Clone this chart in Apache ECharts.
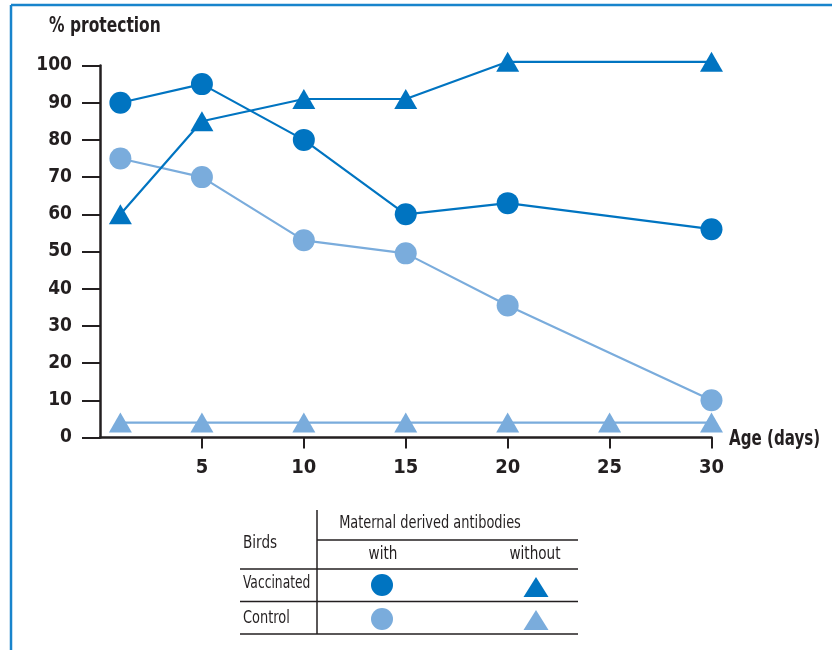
<!DOCTYPE html>
<html>
<head>
<meta charset="utf-8">
<script src="https://cdn.jsdelivr.net/npm/echarts@6/dist/echarts.min.js"></script>
<style>
html,body{margin:0;padding:0;background:#fff;}
#chart{width:832px;height:650px;}
</style>
</head>
<body>
<div id="chart"></div>
<script>
// ---- data ----
var daysVaccWith = [1, 5, 10, 15, 20, 30];
var vaccWith = [90, 95, 80, 60, 63, 56];
var daysVaccWithout = [1, 5, 10, 15, 20, 30];
var vaccWithout = [60, 85, 91, 91, 101, 101];
var daysCtrlWith = [1, 5, 10, 15, 20, 30];
var ctrlWith = [75, 70, 53, 49.5, 35.5, 10];
var daysCtrlWithout = [1, 5, 10, 15, 20, 25, 30];
var ctrlWithout = [4, 4, 4, 4, 4, 4, 4];
var xTicks = [5, 10, 15, 20, 25, 30];
var yTicks = [0, 10, 20, 30, 40, 50, 60, 70, 80, 90, 100];

var DARK = '#0074c1';
var LIGHT = '#7aacdc';
var FRAME = '#1884cc';
var INK = '#231f20';
var FONT = "'DejaVu Sans Condensed', 'Liberation Sans Narrow', sans-serif";

function pairs(xs, ys) { return xs.map(function (x, i) { return [x, ys[i]]; }); }

var chart = echarts.init(document.getElementById('chart'), null, {renderer: 'canvas'});

function tri(cx, cy, w, h, color) {
  return {
    type: 'polygon',
    shape: {points: [[cx, cy - h / 2], [cx + w / 2, cy + h / 2], [cx - w / 2, cy + h / 2]]},
    style: {fill: color}
  };
}
function hline(x1, x2, y) {
  return {type: 'line', shape: {x1: x1, y1: y, x2: x2, y2: y}, style: {stroke: INK, lineWidth: 1.5}};
}
function txt(x, y, s, align, sx) {
  return {type: 'text', x: x, y: y, scaleX: sx || 0.84,
    style: {text: s, fill: INK, font: '18px ' + FONT, textAlign: align || 'left', textVerticalAlign: 'middle'}};
}

var option = {
  animation: false,
  backgroundColor: '#fff',
  grid: {left: 100, top: 65.5, right: 120.5, bottom: 212.5, containLabel: false},
  xAxis: {
    type: 'value', min: 0, max: 30, interval: 5,
    axisLine: {show: true, lineStyle: {color: INK, width: 2.5}},
    axisTick: {show: true, length: 11, lineStyle: {color: INK, width: 2}, customValues: xTicks},
    axisLabel: {color: INK, fontSize: 20, fontWeight: 'bold', fontFamily: FONT, margin: 20, customValues: xTicks},
    splitLine: {show: false}
  },
  yAxis: {
    type: 'value', min: 0, max: 100, interval: 10,
    axisLine: {show: true, lineStyle: {color: INK, width: 2.5}},
    axisTick: {show: true, length: 18, lineStyle: {color: INK, width: 2}, customValues: yTicks},
    axisLabel: {color: INK, fontSize: 19, fontWeight: 'bold', fontFamily: FONT, margin: 28, customValues: yTicks},
    splitLine: {show: false}
  },
  series: [
    {
      name: 'Control without', type: 'line', clip: false, z: 2,
      data: pairs(daysCtrlWithout, ctrlWithout),
      symbol: 'triangle', symbolSize: [23, 20],
      lineStyle: {color: LIGHT, width: 2.2}, itemStyle: {color: LIGHT}
    },
    {
      name: 'Control with', type: 'line', clip: false, z: 3,
      data: pairs(daysCtrlWith, ctrlWith),
      symbol: 'circle', symbolSize: 22,
      lineStyle: {color: LIGHT, width: 2.2}, itemStyle: {color: LIGHT}
    },
    {
      name: 'Vaccinated without', type: 'line', clip: false, z: 4,
      data: pairs(daysVaccWithout, vaccWithout),
      symbol: 'triangle', symbolSize: [23, 20],
      lineStyle: {color: DARK, width: 2.2}, itemStyle: {color: DARK}
    },
    {
      name: 'Vaccinated with', type: 'line', clip: false, z: 5,
      data: pairs(daysVaccWith, vaccWith),
      symbol: 'circle', symbolSize: 22,
      lineStyle: {color: DARK, width: 2.2}, itemStyle: {color: DARK}
    }
  ],
  graphic: [
    // frame
    {type: 'line', shape: {x1: 11, y1: 5, x2: 832, y2: 5}, style: {stroke: FRAME, lineWidth: 2.5}},
    {type: 'line', shape: {x1: 11, y1: 5, x2: 11, y2: 650}, style: {stroke: FRAME, lineWidth: 2.5}},
    // axis titles
    {type: 'text', x: 49, y: 27, scaleX: 0.82, style: {text: '% protection', fill: INK, font: 'bold 21px ' + FONT, textVerticalAlign: 'middle'}},
    {type: 'text', x: 729, y: 440, scaleX: 0.8, style: {text: 'Age (days)', fill: INK, font: 'bold 21px ' + FONT, textVerticalAlign: 'middle'}},
    // table
    {type: 'line', shape: {x1: 317, y1: 510, x2: 317, y2: 634}, style: {stroke: INK, lineWidth: 1.5}},
    hline(317, 578, 540),
    hline(240, 578, 569),
    hline(240, 578, 601.5),
    hline(240, 578, 634),
    txt(430, 523, 'Maternal derived antibodies', 'center', 0.8),
    txt(243, 543, 'Birds'),
    txt(383, 554, 'with', 'center'),
    txt(535, 554, 'without', 'center'),
    txt(243, 583, 'Vaccinated', 'left', 0.76),
    txt(243, 618, 'Control', 'left', 0.8),
    {type: 'circle', shape: {cx: 382, cy: 585, r: 11}, style: {fill: DARK}},
    {type: 'circle', shape: {cx: 382, cy: 619, r: 11}, style: {fill: LIGHT}},
    tri(536, 587, 25, 20, DARK),
    tri(536, 620, 25, 20, LIGHT)
  ]
};
chart.setOption(option);
</script>
</body>
</html>
